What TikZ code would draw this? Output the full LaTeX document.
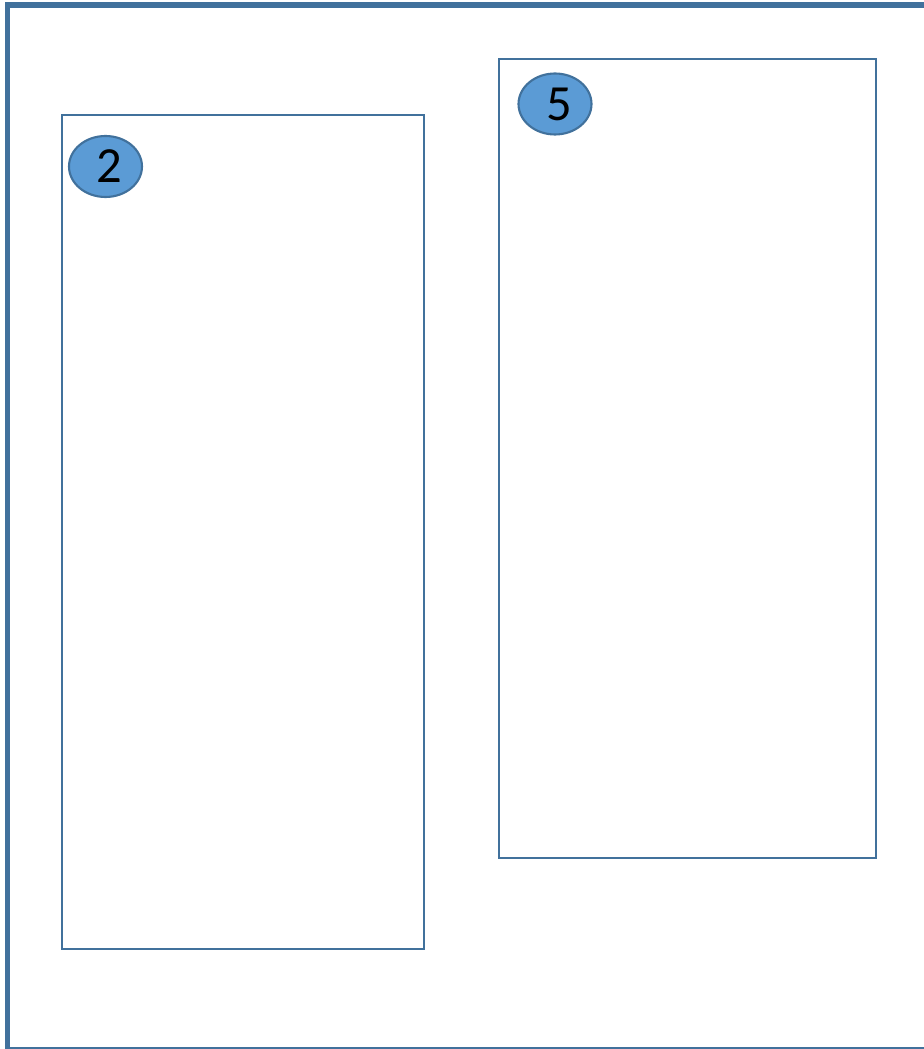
\documentclass[tikz,border=0pt]{standalone}
\usepackage{fontspec}
\setmainfont{Carlito}
\usetikzlibrary{positioning, shapes}
\definecolor{boxline}{RGB}{65,113,156}
\definecolor{badgefill}{RGB}{91,155,213}

\tikzset{
    panel/.style={draw=boxline, line width=1.5pt, rectangle, inner sep=0pt},
    badge/.style={draw=boxline, line width=1.5pt, fill=badgefill, ellipse, inner sep=0pt,
        minimum width=73*0.025cm, minimum height=61*0.025cm, font=\fontsize{36}{40}\selectfont}
}

\begin{document}
\begin{tikzpicture}[x=0.025cm, y=-0.025cm]
    \useasboundingbox (0,0) rectangle (924,1049);
    % outer frame, cut off on the right
    \draw[boxline, line width=3.6pt] (924,5) -- (7.5,5) -- (7.5,1049);
    \draw[boxline, line width=0.8pt] (7.5,1048) -- (924,1048);
    % panels
    \node[panel, minimum width=362*0.025cm, minimum height=834*0.025cm] (leftpanel) at (243,532) {};
    \node[panel, minimum width=377*0.025cm, minimum height=799*0.025cm] (rightpanel) at (687.5,458.5) {};
    % numbered badges
    \node[badge] (badgetwo) at (105.5,166.5) {\hspace{6pt}2};
    \node[badge] (badgefive) at (555,104) {\hspace{6pt}5};
\end{tikzpicture}
\end{document}
